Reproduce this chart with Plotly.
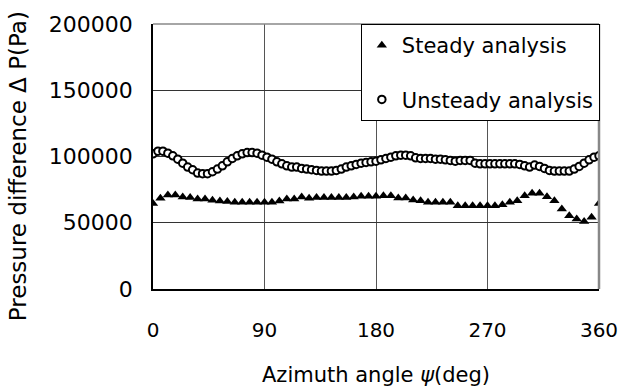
import plotly.graph_objects as go

# Steady analysis (every 6 deg)
steady_angle = list(range(0, 361, 6))
steady_dp = [64500, 68500, 71000, 71000, 69500, 69000, 68000, 68000, 67000, 66500,
             66000, 65500, 65500, 65500, 65500, 65500, 65500, 66500, 68000, 68000,
             69500, 68500, 69000, 69000, 69000, 69000, 69000, 69500, 70000, 70000,
             70000, 70300, 70300, 68600, 68600, 67100, 66600, 65400, 65400, 65400,
             65400, 62800, 62800, 62800, 62800, 62800, 62800, 63600, 65400, 66600,
             70300, 72200, 72200, 69600, 66600, 60300, 55300, 52800, 51000, 54100,
             64500]

# Unsteady analysis (every 4 deg)
unsteady_angle = list(range(0, 361, 4))
unsteady_dp = [102000, 104000, 104000, 102500, 100500, 98000, 95000, 92000, 90000, 87500,
               87000, 87000, 88500, 90500, 93000, 96000, 98500, 100500, 102000, 103000,
               103000, 102500, 101000, 99500, 98000, 96000, 94500, 93000, 92000, 92000,
               91000, 90500, 90000, 89500, 89000, 89000, 89000, 89500, 90500, 92000,
               93000, 94000, 95000, 95500, 96000, 96500, 97500, 98500, 99500, 100500,
               101000, 101000, 100500, 99000, 98500, 98500, 98500, 98000, 98000, 97500,
               97000, 96500, 97000, 97000, 97000, 95000, 94500, 94500, 94500, 94500,
               94500, 94500, 94500, 94500, 94000, 93000, 92000, 93500, 92500, 91000,
               89500, 89000, 89000, 89000, 89000, 90500, 92500, 95000, 97500, 99500,
               100500]

x_ticks = [0, 90, 180, 270, 360]
y_ticks = [0, 50000, 100000, 150000, 200000]

x_title = "Azimuth angle <i>ψ</i>(deg)"
y_title = "Pressure difference Δ P(Pa)"

FONT = "DejaVu Sans"

fig = go.Figure()
fig.add_trace(go.Scatter(
    x=steady_angle, y=steady_dp, mode="markers", name="Steady analysis",
    legendgroup="a",
    marker=dict(symbol="triangle-up", size=9, color="black"),
))
fig.add_trace(go.Scatter(
    x=unsteady_angle, y=unsteady_dp, mode="markers", name="Unsteady analysis",
    legendgroup="b",
    marker=dict(symbol="circle", size=7.5, color="white", line=dict(color="black", width=2)),
))

fig.update_layout(
    width=622, height=389,
    margin=dict(l=153, r=23, t=24, b=100),
    paper_bgcolor="white", plot_bgcolor="white",
    font=dict(family=FONT, size=19, color="black"),
    showlegend=True,
    legend=dict(
        x=0.466, y=1, xanchor="left", yanchor="top",
        bgcolor="white", bordercolor="black", borderwidth=1,
        font=dict(family=FONT, size=21),
        tracegroupgap=24, traceorder="grouped",
    ),
    xaxis=dict(
        range=[0, 360], tickvals=x_ticks, ticktext=[str(v) for v in x_ticks],
        showgrid=True, gridcolor="#555555", gridwidth=1,
        showline=True, linecolor="black", linewidth=1.5,
        zeroline=False, ticks="", ticklabelstandoff=22,
        tickfont=dict(size=20), automargin=False,
    ),
    yaxis=dict(
        range=[0, 200000], tickvals=y_ticks, ticktext=[str(v) for v in y_ticks],
        showgrid=True, gridcolor="#333333", gridwidth=1,
        showline=True, linecolor="black", linewidth=1.5,
        zeroline=False, ticks="", ticklabelstandoff=14,
        tickfont=dict(size=22), automargin=False,
    ),
    annotations=[
        dict(text=x_title, xref="paper", yref="paper", x=0.5, y=-0.325,
             xanchor="center", yanchor="middle", showarrow=False,
             font=dict(size=21)),
        dict(text=y_title, xref="paper", yref="paper", x=-0.304, y=0.465,
             xanchor="center", yanchor="middle", textangle=-90, showarrow=False,
             font=dict(size=23)),
    ],
    shapes=[
        dict(type="line", xref="paper", yref="paper", x0=0, x1=1, y0=1, y1=1,
             line=dict(color="#888888", width=1.5)),
        dict(type="line", xref="paper", yref="paper", x0=1, x1=1, y0=0, y1=1,
             line=dict(color="#888888", width=2.5)),
    ],
)

fig.write_html("out.html")
